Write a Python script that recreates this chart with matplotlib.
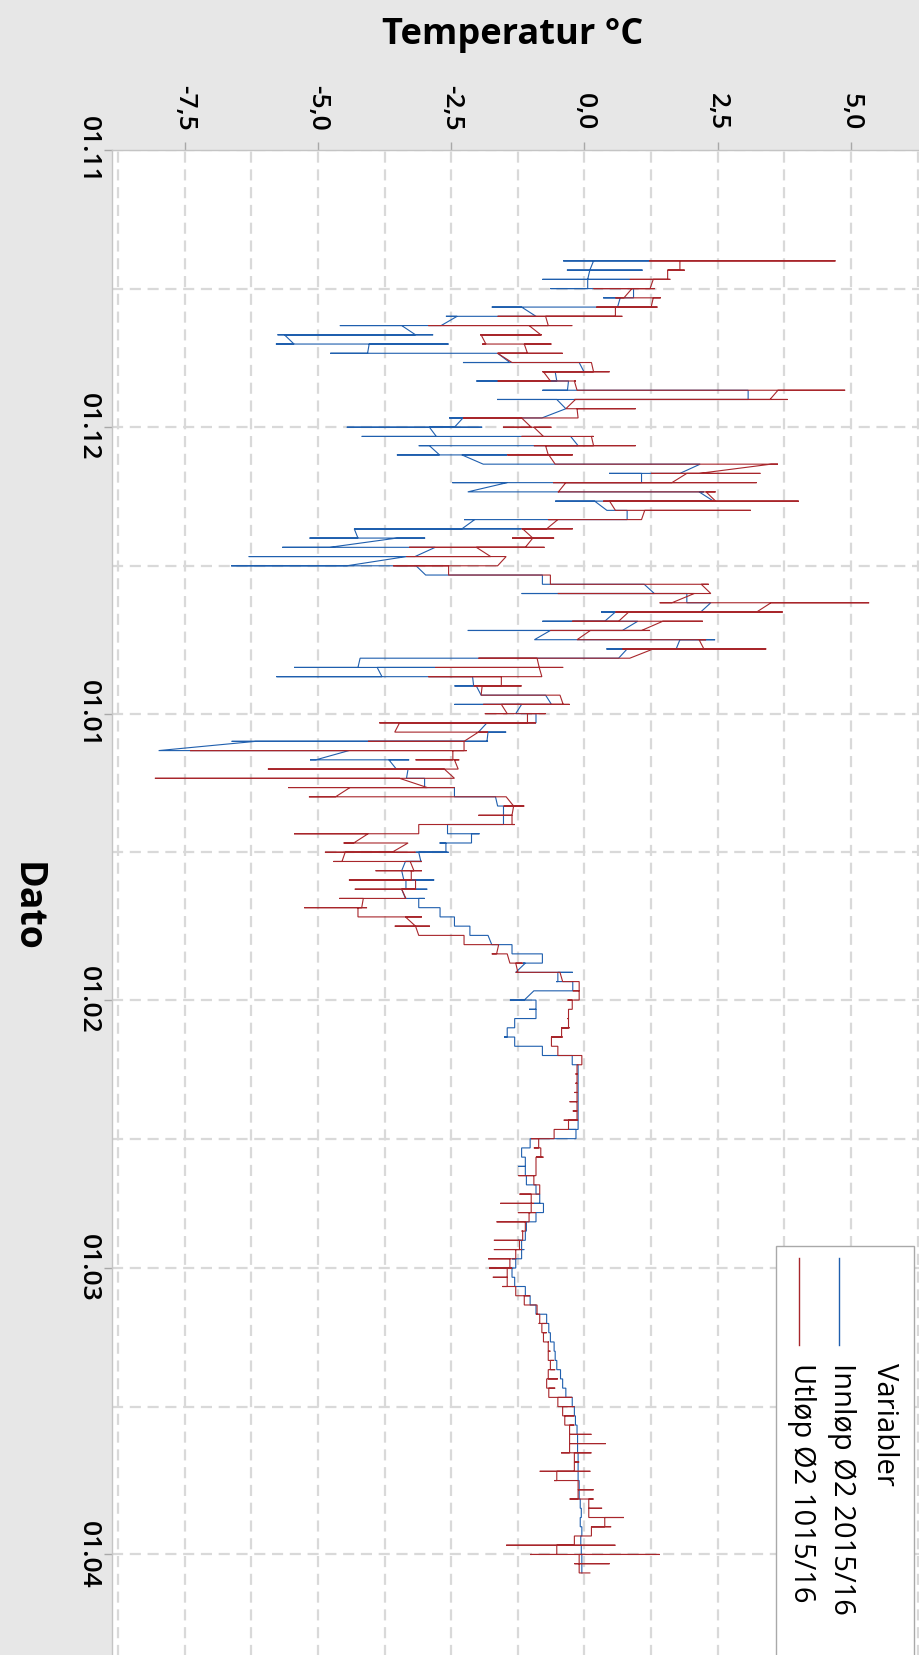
import matplotlib
matplotlib.use('Agg')
import matplotlib.pyplot as plt
import matplotlib.dates as mdates
import matplotlib.ticker as mticker
from matplotlib.lines import Line2D
from matplotlib.patches import Rectangle
import pandas as pd

# Daglige registreringer fra 13.11.2015; hver rad er dagens målinger i rekkefølge (°C)
innlop = [
    [0.17, -0.40, 1.21, 0.17], [0.10, -0.33, 1.09, 0.10], [0.06, -0.79, 0.85, 0.06],
    [0.06, -0.64, 0.92, 0.92], [0.92, 0.35, 0.92, 0.67], [0.62, -1.74, 0.62, -1.18],
    [-0.91, -2.60, -0.91, -2.39], [-2.69, -4.59, -2.69, -3.43], [-3.17, -5.76, -2.84, -5.63],
    [-5.45, -5.79, -2.55, -4.04], [-4.07, -4.77, -1.63, -1.63], [-1.40, -2.28, -0.10, -0.10],
    [-0.01, -0.55, -0.01, -0.55], [-0.52, -2.03, -0.30, -0.30], [-0.32, -0.79, 3.07, 3.07],
    [3.07, -1.64, 3.07, -0.52], [-0.35, -0.35], [-0.80, -2.54, -0.80, -2.28],
    [-2.44, -4.46, -1.92, -2.91], [-2.78, -4.18, -0.26, -0.26], [-0.12, -3.11, -0.12, -2.91],
    [-2.72, -3.52, -1.45, -2.30], [-1.90, 2.17, 2.17], [1.79, 0.46, 1.79, 1.07],
    [1.07, -2.48, 1.07, -1.45], [-2.19, 2.24, 2.15], [2.42, -0.55, 2.42, 0.19],
    [0.42, 0.80], [0.80, -2.26, 0.80, -2.06], [-2.30, -4.32, -1.18, -4.32],
    [-4.25, -5.16, -2.99, -3.52], [-4.78, -5.67, -2.80], [-3.18, -6.30, -3.18, -3.34],
    [-4.46, -6.63, -3.16], [-2.98, -0.79], [-0.79, 1.12],
    [1.31, -1.18, 1.92], [1.92, 2.37], [2.18, 0.31, 2.18, 0.58],
    [0.38, -0.79, 1.00], [0.71, -2.19, 0.71, -0.64], [-0.94, 2.45, 1.79],
    [1.72, 0.41, 1.72, 0.80], [0.64, -4.21], [-4.25, -5.45, -2.80, -3.89],
    [-3.80, -5.78, -2.10], [-2.08, -2.44, -2.03], [-1.94, -0.73],
    [-0.62, -2.44, -0.62, -1.18], [-1.29, -0.91], [-0.91, -1.83],
    [-1.99, -1.47, -1.81], [-1.83, -6.62, -1.81, -6.17], [-7.99, -4.42],
    [-5.04, -5.15, -3.29, -3.67], [-3.53, -3.31], [-3.34, -3.00],
    [-3.00, -2.44], [-2.44, -1.67], [-1.63, -1.52],
    [-1.52, -1.52], [-1.52, -2.57], [-2.57, -1.97, -2.12],
    [-2.12, -2.72, -2.60], [-2.60, -3.17, -2.55, -3.11], [-3.07, -3.36, -3.05, -3.36],
    [-3.43, -3.43], [-3.39, -2.82, -3.35], [-3.35, -2.95, -3.43],
    [-3.36, -3.00, -3.11], [-3.11, -2.71], [-2.71, -2.44],
    [-2.44, -2.15], [-2.15, -1.81], [-1.74, -1.36],
    [-1.36, -0.79], [-0.79, -1.16, -1.11], [-1.29, -0.22, -0.50],
    [-0.50, -0.53, -0.22], [-0.22, -0.95], [-1.13, -1.40, -0.91],
    [-0.91, -1.04, -0.91], [-0.91, -1.29, -1.31], [-1.31, -1.45],
    [-1.45, -1.51, -1.31], [-1.31, -0.79], [-0.79, -0.23],
    [-0.23, -0.12], [-0.12, -0.12], [-0.12, -0.12],
    [-0.12, -0.12], [-0.12, -0.12], [-0.12, -0.12],
    [-0.12, -0.12], [-0.12, -0.30, -0.16], [-0.16, -1.02],
    [-1.02, -1.18], [-1.18, -1.11], [-1.11, -1.24, -1.11],
    [-1.11, -1.09], [-1.09, -0.91], [-0.91, -0.84],
    [-0.84, -0.95, -0.77], [-0.77, -0.91], [-0.91, -1.09],
    [-1.09, -1.11], [-1.11, -1.25, -1.18], [-1.18, -1.13, -1.18],
    [-1.18, -1.36, -1.29], [-1.29, -1.40, -1.36], [-1.36, -1.31],
    [-1.31, -1.11], [-1.11, -1.02], [-1.02, -0.91],
    [-0.91, -0.71], [-0.71, -0.67], [-0.67, -0.64],
    [-0.64, -0.57], [-0.57, -0.55], [-0.55, -0.52],
    [-0.52, -0.45], [-0.45, -0.41], [-0.41, -0.35],
    [-0.35, -0.23], [-0.23, -0.19], [-0.19, -0.17],
    [-0.17, -0.14], [-0.14, -0.13], [-0.13, -0.13],
    [-0.13, -0.12], [-0.12, -0.12], [-0.12, -0.12],
    [-0.12, -0.10], [-0.10, -0.10], [-0.10, -0.08],
    [-0.08, -0.06], [-0.06, -0.08], [-0.08, -0.05],
    [-0.05, -0.07], [-0.07, -0.06], [-0.06, -0.05],
    [-0.05, -0.05], [-0.05, -0.05],
]

utlop = [
    [1.79, 1.21, 4.71, 1.79], [1.79, 1.56, 1.88, 1.56], [1.56, 0.85, 1.61, 1.29],
    [1.23, 0.17, 1.32, 0.89], [0.74, 0.58, 1.43, 1.29], [1.25, 0.22, 1.37, 0.58],
    [0.58, -1.63, 0.71, -0.73], [-0.68, -2.93, -0.23, -1.04], [-0.82, -1.96, -0.80, -1.94],
    [-1.85, -1.92, -0.62, -1.13], [-1.07, -1.63, -0.41, -1.63], [-1.36, 0.13],
    [0.17, -0.79, 0.47, -0.77], [-0.64, -1.63, -0.16, -0.19], [-0.14, 4.89, 3.63],
    [3.48, -0.19, 3.81, -0.17], [-0.35, 0.96, -0.14], [-0.12, -2.28, -0.12, -1.18],
    [-1.00, -1.53, -0.62, -0.95], [-0.77, -1.18, 0.17, 0.13], [0.17, -0.95, 0.96, -0.73],
    [-0.68, -1.45, -0.22, -0.67], [-0.55, 3.63, 3.50], [2.15, 1.25, 3.30, 1.92],
    [1.64, -0.59, 3.23, -0.35], [-0.49, -0.50, 2.46, 2.28], [2.46, 0.35, 4.02, 0.47],
    [0.58, 3.12, 1.13], [1.07, -0.68, 1.07, -0.50], [-0.71, -1.18, -0.22, -1.16],
    [-0.97, -1.36, -0.57, -0.97], [-1.11, -3.29, -0.75, -2.03], [-1.76, -3.34, -1.47],
    [-1.63, -3.59, -1.63, -2.55], [-2.55, -0.64], [-0.64, 2.33, 2.19],
    [2.37, -0.50, 2.37, 2.06], [1.64, 1.41, 5.34, 3.50], [3.23, 0.58, 3.72, 0.83],
    [0.64, -0.23, 2.22, 1.47], [1.07, -0.64, 1.23, 0.11], [-0.14, 2.28, 2.15],
    [2.24, 0.71, 3.41, 1.29], [0.85, -1.99, 0.85, -0.89], [-0.85, -2.80, -0.40, -0.85],
    [-0.80, -2.93, -0.80, -1.56], [-1.56, -2.08, -1.18, -1.92], [-1.94, -0.46],
    [-0.40, -1.90, -0.28, -1.56], [-1.45, -1.87, -0.73, -1.07], [-1.07, -3.85, -0.91, -3.47],
    [-3.56, -1.81, -1.99], [-2.26, -4.06, -2.26], [-2.26, -7.40, -2.21, -2.47],
    [-2.47, -3.17, -2.35, -2.44], [-2.37, -5.94, -2.37, -2.63], [-2.44, -8.06, -2.44, -3.47],
    [-2.95, -5.56, -2.44, -4.40], [-4.67, -5.17, -1.47], [-1.33, -1.52, -1.13, -1.33],
    [-1.36, -1.99, -1.36], [-1.36, -2.98, -1.31, -3.11], [-3.11, -5.45, -3.11, -4.06],
    [-4.33, -4.52, -3.31], [-3.61, -4.87, -3.17, -4.49], [-4.55, -4.71, -3.05, -3.27],
    [-3.20, -3.92, -3.05, -3.25], [-3.25, -4.42, -3.17], [-3.17, -4.31, -3.16, -3.43],
    [-3.35, -4.60, -3.35, -4.15], [-4.18, -5.26, -4.08, -4.25], [-4.25, -3.05, -3.36],
    [-3.17, -3.56, -2.90, -3.17], [-3.11, -2.26], [-2.26, -1.74, -1.61],
    [-1.65, -1.74, -1.45], [-1.40, -1.16, -1.29], [-1.25, -1.29, -0.50, -0.46],
    [-0.41, -0.10], [-0.10, -0.22, -0.10], [-0.10, -0.32, -0.10, -0.23],
    [-0.23, -0.30], [-0.30, -0.32, -0.30], [-0.30, -0.43, -0.28, -0.43],
    [-0.43, -0.62, -0.41, -0.62], [-0.62, -0.50], [-0.50, -0.46, -0.05],
    [-0.05, -0.12, -0.14], [-0.14, -0.17, -0.13, -0.14], [-0.14, -0.17, -0.14],
    [-0.14, -0.19, -0.14], [-0.14, -0.28, -0.14], [-0.14, -0.22, -0.14],
    [-0.14, -0.39, -0.12, -0.30], [-0.30, -0.57], [-0.57, -1.00, -0.57, -0.86],
    [-0.86, -0.95, -0.82], [-0.82, -0.91, -0.77, -0.91], [-0.91, -0.91],
    [-0.91, -1.24, -0.95], [-0.95, -0.84], [-0.84, -1.22, -1.00],
    [-1.00, -1.58, -0.95, -1.00], [-1.00, -1.25, -0.91, -1.04], [-1.04, -1.65, -1.09, -1.11],
    [-1.11, -1.18, -1.16], [-1.16, -1.70, -1.22], [-1.22, -1.70, -1.18, -1.29],
    [-1.29, -1.81, -1.36, -1.40], [-1.40, -1.79, -1.36, -1.45], [-1.45, -1.72, -1.45],
    [-1.45, -1.54, -1.29], [-1.29, -1.25, -1.02, -1.13], [-1.13, -0.89],
    [-0.89, -0.91, -0.84], [-0.84, -0.86, -0.71, -0.80], [-0.80, -0.71, -0.77],
    [-0.77, -0.67, -0.68], [-0.68, -0.64, -0.68], [-0.68, -0.57, -0.64],
    [-0.64, -0.55, -0.68], [-0.68, -0.50, -0.71], [-0.71, -0.55, -0.67],
    [-0.67, -0.23, -0.50], [-0.50, -0.19, -0.41], [-0.41, -0.19, -0.37],
    [-0.37, -0.19, -0.28], [-0.28, 0.13, -0.28], [-0.28, 0.40, -0.28],
    [-0.28, -0.44, 0.13, -0.19], [-0.19, -0.10, -0.19], [-0.19, -0.84, 0.11, -0.52],
    [-0.52, -0.57, -0.19, -0.12], [-0.12, 0.17, -0.12], [-0.12, -0.28, 0.17, 0.08],
    [0.08, 0.33, 0.08], [0.08, 0.74, 0.38], [0.38, 0.13, 0.50, 0.13],
    [0.13, -0.19, 0.13, -0.19], [-0.19, -1.47, 0.58, -0.52], [-0.52, -1.02, 1.41, -0.10],
    [-0.10, -0.19, 0.47, -0.10], [-0.10, 0.10],
]

days = pd.date_range('2015-11-13', periods=len(innlop), freq='D')
series_names = ['Innløp Ø2 2015/16', 'Utløp Ø2 1015/16']
series_colors = ['#1f5fae', '#a8262b']
temp_ticks = [-7.5, -5.0, -2.5, 0.0, 2.5, 5.0]

plt.rcParams['font.family'] = ['Open Sans', 'DejaVu Sans']

W, H = 920, 1655
fig = plt.figure(figsize=(W / 100, H / 100), dpi=100, facecolor='#e7e7e7')


def fx(px):
    return px / W


def fy(py):
    return 1 - py / H


# plottet er rotert: temperatur vannrett, dato nedover
left, right, top, bottom = 112, 930, 150, 1702.3
ax = fig.add_axes([fx(left), fy(bottom), fx(right - left), fy(top) - fy(bottom)])
ax.set_facecolor('white')


def trace(rows):
    xs, ys = [], []
    for d, vals in zip(days, rows):
        for v in vals:
            xs.append(v)
            ys.append(mdates.date2num(d))
    return xs, ys


for rows, col in zip([innlop, utlop], series_colors):
    xs, ys = trace(rows)
    ax.plot(xs, ys, color=col, lw=0.8, solid_joinstyle='miter', zorder=3)

ax.set_xlim((left - 584.5) / 53.3, (right - 584.5) / 53.3)
ax.set_ylim(mdates.date2num(pd.Timestamp('2016-04-17')), mdates.date2num(pd.Timestamp('2015-11-01')))

ax.xaxis.set_major_locator(mticker.FixedLocator(temp_ticks))
ax.xaxis.set_minor_locator(mticker.MultipleLocator(1.25))
ax.xaxis.set_major_formatter(mticker.FuncFormatter(lambda v, p: f'{v:.1f}'.replace('.', ',')))
ax.yaxis.set_major_locator(mdates.MonthLocator())
ax.yaxis.set_minor_locator(mdates.MonthLocator(bymonthday=16))
ax.yaxis.set_major_formatter(mdates.DateFormatter('%d.%m'))

ax.xaxis.tick_top()
ax.tick_params(axis='x', which='major', direction='out', length=6, width=1, color='#a8a8a8',
               labelsize=19, pad=8, labelrotation=-90)
ax.tick_params(axis='y', which='major', direction='out', length=6, width=1, color='#a8a8a8',
               labelsize=19, pad=2, labelrotation=-90)
ax.tick_params(which='minor', length=0)
for lab in ax.get_xticklabels() + ax.get_yticklabels():
    lab.set_fontweight('semibold')
for lab in ax.get_yticklabels():
    lab.set_va('center')

ax.grid(which='both', color='#d9d9d9', lw=1.6, ls=(0, (5, 3)), zorder=1)
for s in ax.spines.values():
    s.set_color('#c4c4c4')
    s.set_linewidth(1)

fig.text(fx(513), fy(35), 'Temperatur °C', ha='center', va='center', fontsize=26,
         fontweight='bold')
fig.text(fx(27), fy(907), 'Dato', ha='center', va='center', rotation=-90, fontsize=27,
         fontweight='bold')

# forklaring, tegnet rotert som resten av figuren
fig.add_artist(Rectangle((fx(776), fy(1720)), fx(914 - 776), fy(1246) - fy(1720),
                         transform=fig.transFigure, facecolor='white', edgecolor='#a9a9a9',
                         lw=1, zorder=5))
fig.text(fx(885), fy(1363), 'Variabler', ha='center', va='top', rotation=-90, fontsize=21,
         zorder=6)
for xpos, name, col in zip([842, 802], series_names, series_colors):
    fig.add_artist(Line2D([fx(xpos - 3), fx(xpos - 3)], [fy(1258), fy(1345)], color=col, lw=1,
                          transform=fig.transFigure, zorder=6))
    fig.text(fx(xpos), fy(1363), name, ha='center', va='top', rotation=-90, fontsize=21, zorder=6)

fig.savefig('out.png', dpi=100, facecolor=fig.get_facecolor())
